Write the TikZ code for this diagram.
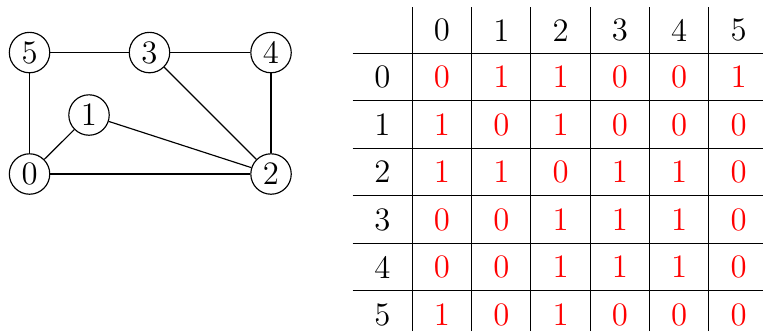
\documentclass[tikz,border=0pt]{standalone}
\usepackage{amsmath,amssymb}
\usepackage{tikz}

\tikzset{vertex/.style={draw,circle,inner sep=0pt,minimum size=0.49cm}}

\begin{document}
\begin{tikzpicture}[font=\fontsize{11.3pt}{13pt}\selectfont]
  \useasboundingbox (0,0) rectangle (9.248,4.012);
  % graph
  \node[vertex] (v5) at (0.358,3.375) {5};
  \node[vertex] (v3) at (1.812,3.375) {3};
  \node[vertex] (v4) at (3.285,3.375) {4};
  \node[vertex] (v1) at (1.079,2.618) {1};
  \node[vertex] (v0) at (0.358,1.903) {0};
  \node[vertex] (v2) at (3.285,1.903) {2};
  \draw (v5) -- (v3);
  \draw (v3) -- (v4);
  \draw (v5) -- (v0);
  \draw (v0) -- (v1);
  \draw (v1) -- (v2);
  \draw (v0) -- (v2);
  \draw (v3) -- (v2);
  \draw (v4) -- (v2);
  % adjacency table
  \foreach \x in {4.997,5.716,6.435,7.154,7.873,8.592}
    \draw (\x,0) -- (\x,3.923);
  \foreach \y in {3.366,2.790,2.215,1.639,1.063,0.488}
    \draw (4.275,\y) -- (9.248,\y);
  \foreach \i in {0,...,5} {
    \node (col\i) at ({5.357+0.719*\i},3.645) {\i};
    \node (row\i) at (4.636,{3.078-0.5757*\i}) {\i};
  }
  \foreach \r/\a/\b/\c/\d/\e/\f in {0/0/1/1/0/0/1,1/1/0/1/0/0/0,2/1/1/0/1/1/0,
                                    3/0/0/1/1/1/0,4/0/0/1/1/1/0,5/1/0/1/0/0/0}
    \foreach \v [count=\j from 0] in {\a,\b,\c,\d,\e,\f}
      \node[red] (c\r\j) at ({5.357+0.719*\j},{3.078-0.5757*\r}) {\v};
\end{tikzpicture}
\end{document}
